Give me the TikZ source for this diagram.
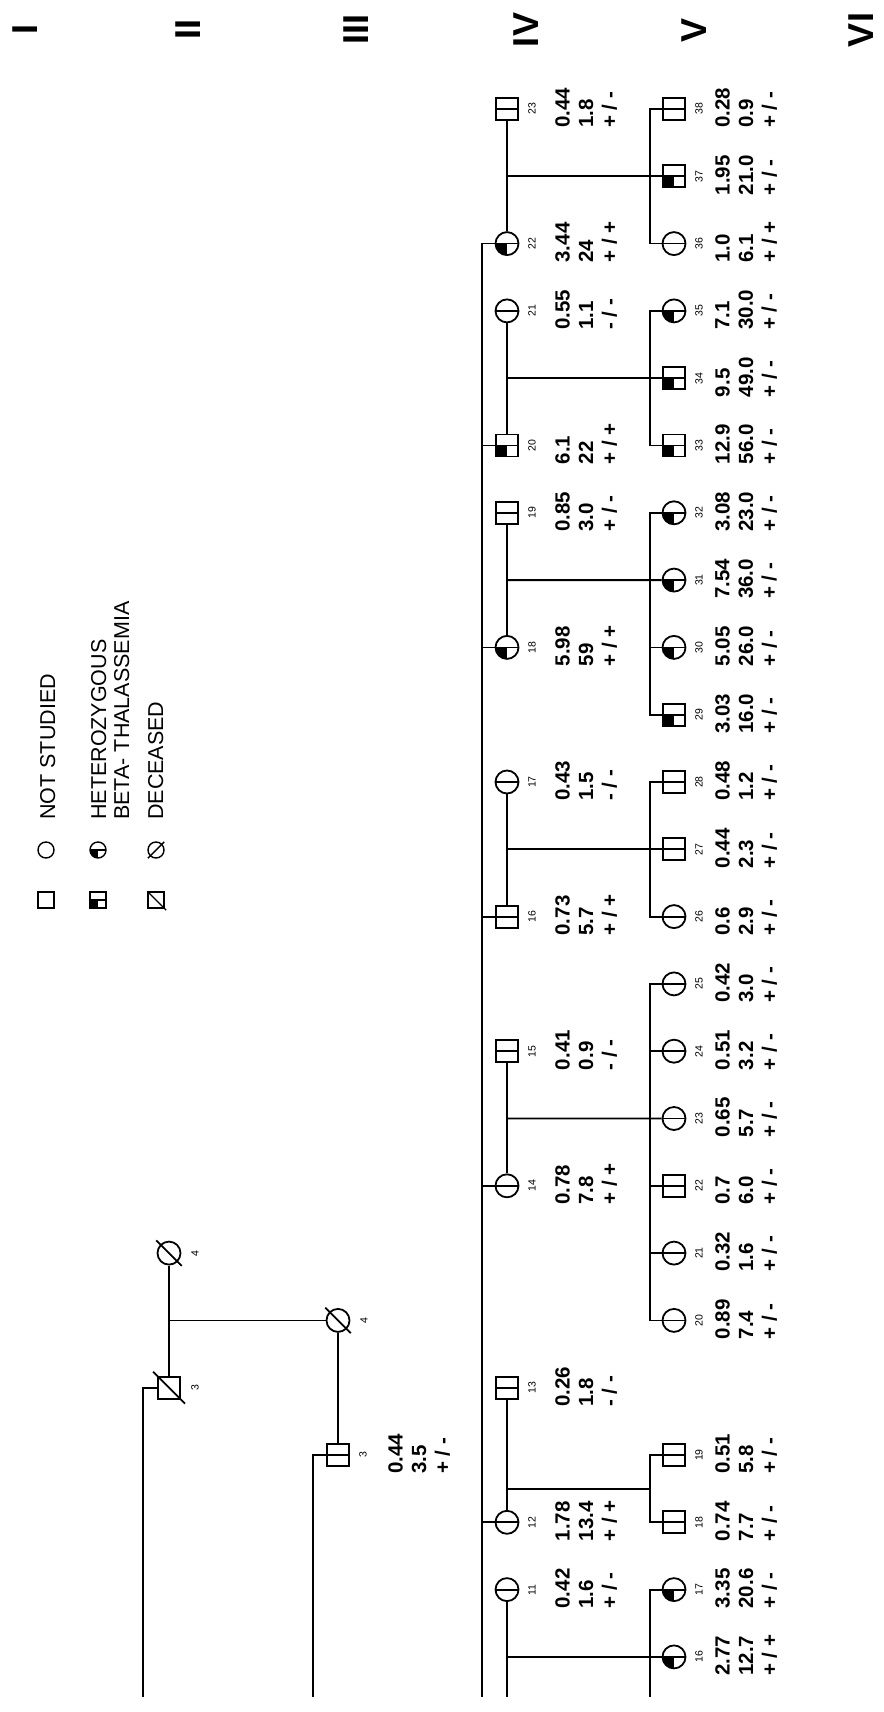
\documentclass[tikz,border=0pt]{standalone}
\usepackage{fontspec}
\setmainfont{Liberation Sans}
\usetikzlibrary{calc}

% one person: name, look, x, y, number, x of data, data lines
\providecommand{\ind}[7]{%
  \node[#2] (#1) at (#3,#4) {};
  \node[numlbl] (#1n) at ({#3+25},#4) {#5};
  \node[dat] (#1d) at (#6,{#4+19}) {#7};}

\begin{document}
\begin{tikzpicture}[
  x=1pt, y=-1pt,
  ln/.style={line width=1.8pt},
  male/.style={draw, line width=1.8pt, rectangle, minimum size=22pt, inner sep=0pt},
  female/.style={draw, line width=1.8pt, circle, minimum size=23pt, inner sep=0pt},
  seen/.style={path picture={\draw[line width=#1]
      (path picture bounding box.west) -- (path picture bounding box.east);}},
  seen/.default=1.8pt,
  carrier/.style={path picture={\fill (path picture bounding box.center)
      rectangle (path picture bounding box.south west);
      \draw[line width=#1] (path picture bounding box.west) -- (path picture bounding box.east);}},
  carrier/.default=1.8pt,
  numlbl/.style={rotate=90, inner sep=0pt, font=\fontsize{10.5}{11}\selectfont},
  dat/.style={rotate=90, anchor=north west, align=left, inner sep=0pt,
              font=\fontsize{20.5}{23.5}\selectfont\bfseries},
  gen/.style={rotate=90, inner sep=0pt, font=\fontsize{36}{36}\selectfont\bfseries},
  keytxt/.style={rotate=90, anchor=north west, align=left, inner sep=0pt,
              font=\fontsize{21.5}{23}\selectfont},
  ksq/.style={draw, line width=1.4pt, rectangle, minimum size=16pt, inner sep=0pt},
  kci/.style={draw, line width=1.4pt, circle, minimum size=16pt, inner sep=0pt},
]
\useasboundingbox (0,0) rectangle (883,1712);

% ---------------- generations ----------------
\node[gen] (gI)   at (25,30)  {I};
\node[gen] (gII)  at (188,30) {II};
\node[gen] (gIII) at (356,30) {III};
\node[gen] (gIV)  at (526,30) {IV};
\node[gen] (gV)   at (694,30) {V};
\node[gen] (gVI)  at (861,30) {VI};

% ---------------- key ----------------
\node[ksq] (k1s) at (46,900) {};
\node[kci] (k1c) at (46,850) {};
\node[keytxt] (k1t) at (40,820) {NOT STUDIED};
\node[ksq, carrier=1.4pt] (k2s) at (98,900) {};
\node[kci, carrier=1.4pt] (k2c) at (98,850) {};
\node[keytxt] (k2t) at (91,820) {HETEROZYGOUS\\BETA- THALASSEMIA};
\node[ksq] (k3s) at (156,900) {};
\node[kci] (k3c) at (156,850) {};
\node[keytxt] (k3t) at (148,820) {DECEASED};
\draw[line width=1.4pt] (k3s.north west) -- ([shift={(1.5pt,-1.5pt)}]k3s.south east);
\draw[line width=1.4pt] ([shift={(-2pt,-2pt)}]k3c.south west) -- ([shift={(2pt,2pt)}]k3c.north east);

% ---------------- generations II and III ----------------
\node[female] (ii4) at (169,1253.1) {};
\node[numlbl] (ii4n) at (195,1253.1) {4};
\node[male] (ii3) at (169,1387.7) {};
\node[numlbl] (ii3n) at (195,1387.7) {3};
\node[female] (iii4) at (338,1320.4) {};
\node[numlbl] (iii4n) at (364,1320.4) {4};
\ind{iii3}{male,seen}{338}{1455.0}{3}{388}{0.44\\3.5\\+ / -}
\foreach \p in {ii4,ii3,iii4}
  \draw[ln] ([shift={(-4pt,4pt)}]\p.north west) -- ([shift={(4pt,-4pt)}]\p.south east);

% ---------------- generation IV ----------------
\ind{iv23}{male,seen}{507}{109.0}{23}{555}{0.44\\1.8\\+ / -}
\ind{iv22}{female,carrier}{507}{243.6}{22}{555}{3.44\\24\\+ / +}
\ind{iv21}{female,seen}{507}{310.9}{21}{555}{0.55\\1.1\\- / -}
\ind{iv20}{male,carrier}{507}{445.5}{20}{555}{6.1\\22\\+ / +}
\ind{iv19}{male,seen}{507}{512.8}{19}{555}{0.85\\3.0\\+ / -}
\ind{iv18}{female,carrier}{507}{647.4}{18}{555}{5.98\\59\\+ / +}
\ind{iv17}{female,seen}{507}{782.0}{17}{555}{0.43\\1.5\\- / -}
\ind{iv16}{male,seen}{507}{916.6}{16}{555}{0.73\\5.7\\+ / +}
\ind{iv15}{male,seen}{507}{1051.2}{15}{555}{0.41\\0.9\\- / -}
\ind{iv14}{female,seen}{507}{1185.8}{14}{555}{0.78\\7.8\\+ / +}
\ind{iv13}{male,seen}{507}{1387.7}{13}{555}{0.26\\1.8\\- / -}
\ind{iv12}{female,seen}{507}{1522.3}{12}{555}{1.78\\13.4\\+ / +}
\ind{iv11}{female,seen}{507}{1589.6}{11}{555}{0.42\\1.6\\+ / -}

% ---------------- generation V ----------------
\ind{v38}{male,seen}{674}{109.0}{38}{715}{0.28\\0.9\\+ / -}
\ind{v37}{male,carrier}{674}{176.3}{37}{715}{1.95\\21.0\\+ / -}
\ind{v36}{female,seen}{674}{243.6}{36}{715}{1.0\\6.1\\+ / +}
\ind{v35}{female,carrier}{674}{310.9}{35}{715}{7.1\\30.0\\+ / -}
\ind{v34}{male,carrier}{674}{378.2}{34}{715}{9.5\\49.0\\+ / -}
\ind{v33}{male,carrier}{674}{445.5}{33}{715}{12.9\\56.0\\+ / -}
\ind{v32}{female,carrier}{674}{512.8}{32}{715}{3.08\\23.0\\+ / -}
\ind{v31}{female,carrier}{674}{580.1}{31}{715}{7.54\\36.0\\+ / -}
\ind{v30}{female,carrier}{674}{647.4}{30}{715}{5.05\\26.0\\+ / -}
\ind{v29}{male,carrier}{674}{714.7}{29}{715}{3.03\\16.0\\+ / -}
\ind{v28}{male,seen}{674}{782.0}{28}{715}{0.48\\1.2\\+ / -}
\ind{v27}{male,seen}{674}{849.3}{27}{715}{0.44\\2.3\\+ / -}
\ind{v26}{female,seen}{674}{916.6}{26}{715}{0.6\\2.9\\+ / -}
\ind{v25}{female,seen}{674}{983.9}{25}{715}{0.42\\3.0\\+ / -}
\ind{v24}{female,seen}{674}{1051.2}{24}{715}{0.51\\3.2\\+ / -}
\ind{v23}{female,seen}{674}{1118.5}{23}{715}{0.65\\5.7\\+ / -}
\ind{v22}{male,seen}{674}{1185.8}{22}{715}{0.7\\6.0\\+ / -}
\ind{v21}{female,seen}{674}{1253.1}{21}{715}{0.32\\1.6\\+ / -}
\ind{v20}{female,seen}{674}{1320.4}{20}{715}{0.89\\7.4\\+ / -}
\ind{v19}{male,seen}{674}{1455.0}{19}{715}{0.51\\5.8\\+ / -}
\ind{v18}{male,seen}{674}{1522.3}{18}{715}{0.74\\7.7\\+ / -}
\ind{v17}{female,carrier}{674}{1589.6}{17}{715}{3.35\\20.6\\+ / -}
\ind{v16}{female,carrier}{674}{1656.9}{16}{715}{2.77\\12.7\\+ / +}

% ---------------- lines ----------------
\coordinate (iix)  at (143,0);
\coordinate (iiix) at (313,0);
\coordinate (ivx)  at (482,0);
\coordinate (vx)   at (650,0);
\coordinate (bot)  at (0,1697);

% II and III
\draw[ln] (ii4.south) -- (ii3.north);
\draw[ln] ($(ii4)!.5!(ii3)$) -- (iii4.west);
\draw[ln] (ii3.west) -| (iix |- bot);
\draw[ln] (iii4.south) -- (iii3.north);
\draw[ln] (iii3.west) -| (iiix |- bot);

% IV sibship
\draw[ln] (iv22.west) -| (ivx |- bot);
\foreach \n in {20,18,16,14,12}
  \draw[ln] (iv\n.west) -- (iv\n.west -| ivx);

% IV couples and their descent
\draw[ln] (iv23.south) -- (iv22.north);
\draw[ln] (iv21.south) -- (iv20.north);
\draw[ln] (iv19.south) -- (iv18.north);
\draw[ln] (iv17.south) -- (iv16.north);
\draw[ln] (iv15.south) -- (iv14.north);
\draw[ln] (iv13.south) -- (iv12.north);
\draw[ln] (iv11.south) -- (iv11 |- bot);
\draw[ln] ($(iv23)!.5!(iv22)$) -- (v37.west);
\draw[ln] ($(iv21)!.5!(iv20)$) -- (v34.west);
\draw[ln] ($(iv19)!.5!(iv18)$) -- (v31.west);
\draw[ln] ($(iv17)!.5!(iv16)$) -- (v27.west);
\draw[ln] ($(iv15)!.5!(iv14)$) -- (v23.west);
\coordinate (d1819) at ($(v19)!.5!(v18)$);
\draw[ln] (d1819 -| iv12) -- (d1819 -| vx);
\draw[ln] (v16.west -| iv11) -- (v16.west);

% V sibships
\draw[ln] (v36.west) -- (v36.west -| vx) |- (v38.west);
\draw[ln] (v33.west) -- (v33.west -| vx) |- (v35.west);
\draw[ln] (v29.west) -- (v29.west -| vx) |- (v32.west);
\draw[ln] (v26.west) -- (v26.west -| vx) |- (v28.west);
\draw[ln] (v20.west) -- (v20.west -| vx) |- (v25.west);
\draw[ln] (v18.west) -- (v18.west -| vx) |- (v19.west);
\draw[ln] (v17.west) -- (v17.west -| vx) -- (vx |- bot);
\foreach \n in {30,21,22,24}
  \draw[ln] (v\n.west) -- (v\n.west -| vx);

\end{tikzpicture}
\end{document}
